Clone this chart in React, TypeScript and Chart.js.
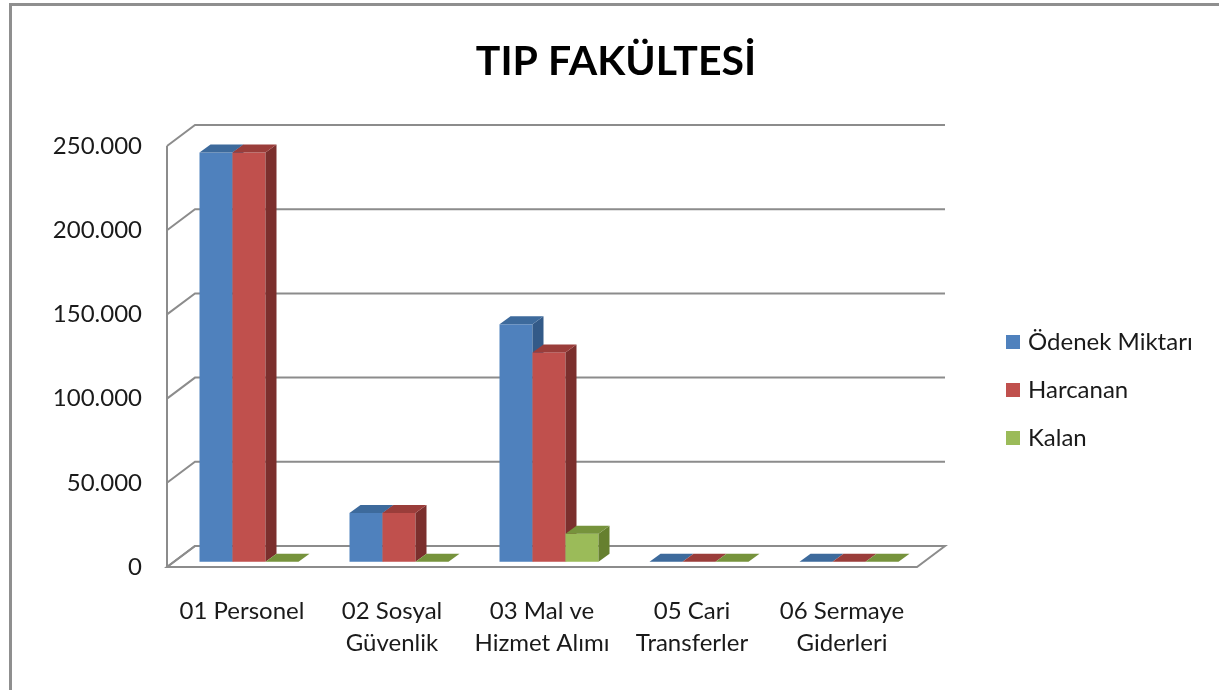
import React, { useEffect, useRef } from "react";
import { Chart, registerables } from "chart.js";

Chart.register(...registerables);

const title = "TIP FAKÜLTESİ";
const categories: string[][] = [
  ["01 Personel"],
  ["02 Sosyal", "Güvenlik"],
  ["03 Mal ve", "Hizmet Alımı"],
  ["05 Cari", "Transferler"],
  ["06 Sermaye", "Giderleri"],
];
const seriesNames = ["Ödenek Miktarı", "Harcanan", "Kalan"];
const odenekMiktari = [243000, 29000, 141000, 0, 0];
const harcanan = [243000, 29000, 124300, 0, 0];
const kalan = [0, 0, 16700, 0, 0];
const yTicks = [0, 50000, 100000, 150000, 200000, 250000];
const yTickLabels = ["0", "50.000", "100.000", "150.000", "200.000", "250.000"];

const frontColors = ["#4F81BD", "#C0504D", "#9BBB59"];
const topColors = ["#3D6A9C", "#9A3D3A", "#76933C"];
const sideColors = ["#335A88", "#7B2F2D", "#66802F"];

const FONT = "Lato, 'Open Sans', sans-serif";
const DEPTH = { x: 28, y: -21 };
const F = 0.25; // bars plane position from the front
const BAR_DEPTH = { x: 11, y: -8 };

const front = (x: number, y: number) => [x - F * DEPTH.x, y - F * DEPTH.y];
const back = (x: number, y: number) => [x + (1 - F) * DEPTH.x, y + (1 - F) * DEPTH.y];

const poly = (ctx: CanvasRenderingContext2D, pts: number[][], fill: string) => {
  ctx.beginPath();
  ctx.moveTo(pts[0][0], pts[0][1]);
  for (let i = 1; i < pts.length; i++) ctx.lineTo(pts[i][0], pts[i][1]);
  ctx.closePath();
  ctx.fillStyle = fill;
  ctx.fill();
};

const pseudo3d = {
  id: "pseudo3d",
  beforeDatasetsDraw(chart: any) {
    const ctx: CanvasRenderingContext2D = chart.ctx;
    const { left: L, right: R } = chart.chartArea;
    const ys = chart.scales.y;
    const xs = chart.scales.x;
    ctx.save();

    // frame
    ctx.strokeStyle = "#8f8f8f";
    ctx.lineWidth = 3;
    ctx.beginPath();
    ctx.moveTo(10.5, 690);
    ctx.lineTo(10.5, 4.5);
    ctx.lineTo(1219, 4.5);
    ctx.stroke();

    // title
    ctx.fillStyle = "#000";
    ctx.font = `bold 41px ${FONT}`;
    ctx.textAlign = "center";
    ctx.textBaseline = "alphabetic";
    ctx.fillText(title, 616, 75);

    // walls and gridlines
    const y0 = ys.getPixelForValue(0);
    const yTop = ys.getPixelForValue(yTicks[yTicks.length - 1]);
    ctx.strokeStyle = "#8c8c8c";
    ctx.lineWidth = 2;
    const fl = [front(L, y0), front(R, y0), back(R, y0), back(L, y0)];
    ctx.beginPath();
    ctx.moveTo(fl[0][0], fl[0][1]);
    fl.slice(1).forEach((p) => ctx.lineTo(p[0], p[1]));
    ctx.closePath();
    ctx.stroke();
    yTicks.forEach((v) => {
      const y = ys.getPixelForValue(v);
      const a = front(L, y);
      const b = back(L, y);
      const c = back(R, y);
      ctx.beginPath();
      ctx.moveTo(a[0], a[1]);
      ctx.lineTo(b[0], b[1]);
      ctx.lineTo(c[0], c[1]);
      ctx.stroke();
    });
    const ya = front(L, y0);
    const yb = front(L, yTop);
    ctx.beginPath();
    ctx.moveTo(ya[0], ya[1]);
    ctx.lineTo(yb[0], yb[1]);
    ctx.stroke();

    // y tick labels
    ctx.fillStyle = "#1a1a1a";
    ctx.font = `24px ${FONT}`;
    ctx.textAlign = "right";
    ctx.textBaseline = "middle";
    yTicks.forEach((v, i) => {
      const p = front(L, ys.getPixelForValue(v));
      ctx.fillText(yTickLabels[i], p[0] - 25, p[1]);
    });

    // category labels
    ctx.textAlign = "center";
    categories.forEach((lines, i) => {
      const p = front(xs.getPixelForValue(i), y0);
      lines.forEach((t, j) => ctx.fillText(t, p[0], p[1] + 44 + j * 32));
    });

    // legend
    seriesNames.forEach((name, i) => {
      const cy = 342 + i * 48;
      ctx.fillStyle = frontColors[i];
      ctx.fillRect(1006, cy - 7, 14, 14);
      ctx.fillStyle = "#1a1a1a";
      ctx.textAlign = "left";
      ctx.fillText(name, 1028, cy);
    });

    // bars with depth
    const n = chart.data.labels.length;
    for (let i = 0; i < n; i++) {
      chart.data.datasets.forEach((_d: any, d: number) => {
        const el = chart.getDatasetMeta(d).data[i];
        const l = el.x - el.width / 2;
        const r = el.x + el.width / 2;
        const t = Math.min(el.y, el.base);
        const base = Math.max(el.y, el.base);
        const bx = BAR_DEPTH.x;
        const by = BAR_DEPTH.y;
        if (base - t > 0.5) {
          ctx.fillStyle = frontColors[d];
          ctx.fillRect(l, t, r - l, base - t);
          poly(ctx, [[r, t], [r + bx, t + by], [r + bx, base + by], [r, base]], sideColors[d]);
        }
        poly(ctx, [[l, t], [r, t], [r + bx, t + by], [l + bx, t + by]], topColors[d]);
      });
    }
    ctx.restore();
    return false;
  },
};

export default function App() {
  const ref = useRef<HTMLCanvasElement>(null);
  useEffect(() => {
    if (!ref.current) return;
    const chart = new Chart(ref.current, {
      type: "bar",
      data: {
        labels: categories.map((c) => c.join(" ")),
        datasets: [
          { label: seriesNames[0], data: odenekMiktari, backgroundColor: frontColors[0] },
          { label: seriesNames[1], data: harcanan, backgroundColor: frontColors[1] },
          { label: seriesNames[2], data: kalan, backgroundColor: frontColors[2] },
        ],
      },
      options: {
        animation: false,
        responsive: false,
        devicePixelRatio: 1,
        layout: { padding: { left: 174, right: 295, top: 140.75, bottom: 128.25 } },
        datasets: { bar: { categoryPercentage: 0.66, barPercentage: 1 } },
        scales: {
          x: { type: "category", display: false },
          y: { min: 0, max: 250000, display: false },
        },
        plugins: { legend: { display: false }, title: { display: false }, tooltip: { enabled: false } },
      },
      plugins: [pseudo3d],
    } as any);
    return () => chart.destroy();
  }, []);
  return (
    <div style={{ position: "fixed", left: 0, top: 0, width: 1219, height: 690, background: "#fff" }}>
      <canvas ref={ref} width={1219} height={690} style={{ display: "block" }} />
    </div>
  );
}
